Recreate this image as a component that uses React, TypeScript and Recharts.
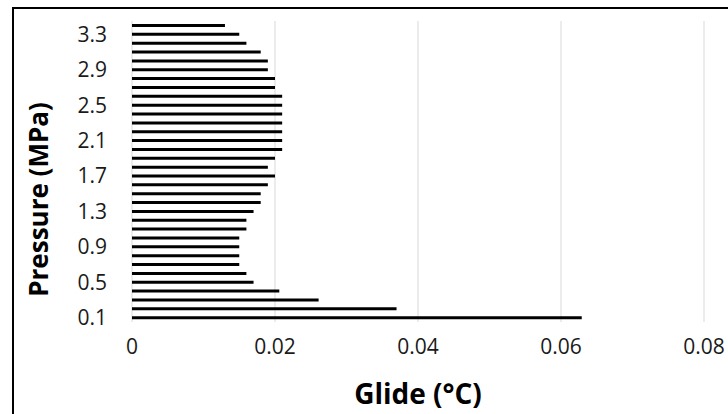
import React from "react";
import { BarChart, Bar, XAxis, YAxis, CartesianGrid } from "recharts";

const pressures = [
  "0.1", "0.2", "0.3", "0.4", "0.5", "0.6", "0.7", "0.8", "0.9", "1.0",
  "1.1", "1.2", "1.3", "1.4", "1.5", "1.6", "1.7", "1.8", "1.9", "2.0",
  "2.1", "2.2", "2.3", "2.4", "2.5", "2.6", "2.7", "2.8", "2.9", "3.0",
  "3.1", "3.2", "3.3", "3.4",
];

const glide = [
  0.0629, 0.037, 0.0261, 0.0206, 0.017, 0.016, 0.015, 0.015, 0.015, 0.015,
  0.016, 0.016, 0.017, 0.018, 0.018, 0.019, 0.02, 0.019, 0.02, 0.021,
  0.021, 0.021, 0.021, 0.021, 0.021, 0.021, 0.02, 0.02, 0.019, 0.019,
  0.018, 0.016, 0.015, 0.013,
];

const xTicks = [0, 0.02, 0.04, 0.06, 0.08];

const data = pressures.map((p, i) => ({ p, g: glide[i] }));

const FONT = "'Open Sans', sans-serif";

const YTitle = (props: any) => {
  const vb = props.viewBox || { x: 0, y: 0, width: 0, height: 0 };
  const bx = vb.x + 48;
  const cy = vb.y + vb.height / 2 + 28;
  return (
    <text
      x={bx}
      y={cy}
      transform={`rotate(-90 ${bx} ${cy})`}
      textAnchor="middle"
      fontFamily={FONT}
      fontWeight={700}
      fontSize={26}
      fill="#000"
    >
      Pressure (MPa)
    </text>
  );
};

const XTitle = (props: any) => {
  const vb = props.viewBox || { x: 0, y: 0, width: 0, height: 0 };
  const cx = vb.x + vb.width / 2;
  return (
    <text
      x={cx}
      y={404}
      textAnchor="middle"
      fontFamily={FONT}
      fontWeight={700}
      fontSize={28}
      fill="#000"
    >
      Glide (°C)
    </text>
  );
};

export default function App() {
  return (
    <div
      style={{
        position: "fixed",
        left: 0,
        top: 0,
        width: 728,
        height: 414,
        overflow: "hidden",
        background: "#fff",
      }}
    >
      <div
        style={{
          position: "absolute",
          left: 12,
          top: 7,
          width: 716,
          height: 407,
          borderLeft: "2px solid #000",
          borderTop: "2px solid #000",
          boxSizing: "border-box",
        }}
      />
      <div style={{ position: "absolute", left: 0, top: 0 }}>
        <BarChart
          width={728}
          height={414}
          data={data}
          layout="vertical"
          margin={{ top: 21, right: 24, bottom: 0, left: 0 }}
        >
          <CartesianGrid horizontal={false} stroke="#d9d9d9" strokeWidth={1} />
          <XAxis
            type="number"
            domain={[0, 0.08]}
            ticks={xTicks}
            tickFormatter={(v: number) => String(v)}
            axisLine={false}
            tickLine={false}
            tickSize={0}
            tickMargin={17}
            height={92}
            tick={{ fontFamily: FONT, fontSize: 21, fill: "#1a1a1a" }}
            label={{ content: XTitle }}
          />
          <YAxis
            type="category"
            dataKey="p"
            reversed
            interval={3}
            axisLine={false}
            tickLine={false}
            tickSize={0}
            tickMargin={25}
            width={132}
            tick={{ fontFamily: FONT, fontSize: 21, fill: "#1a1a1a" }}
            label={{ content: YTitle }}
          />
          <Bar dataKey="g" fill="#000" barSize={3} isAnimationActive={false} />
        </BarChart>
      </div>
    </div>
  );
}
